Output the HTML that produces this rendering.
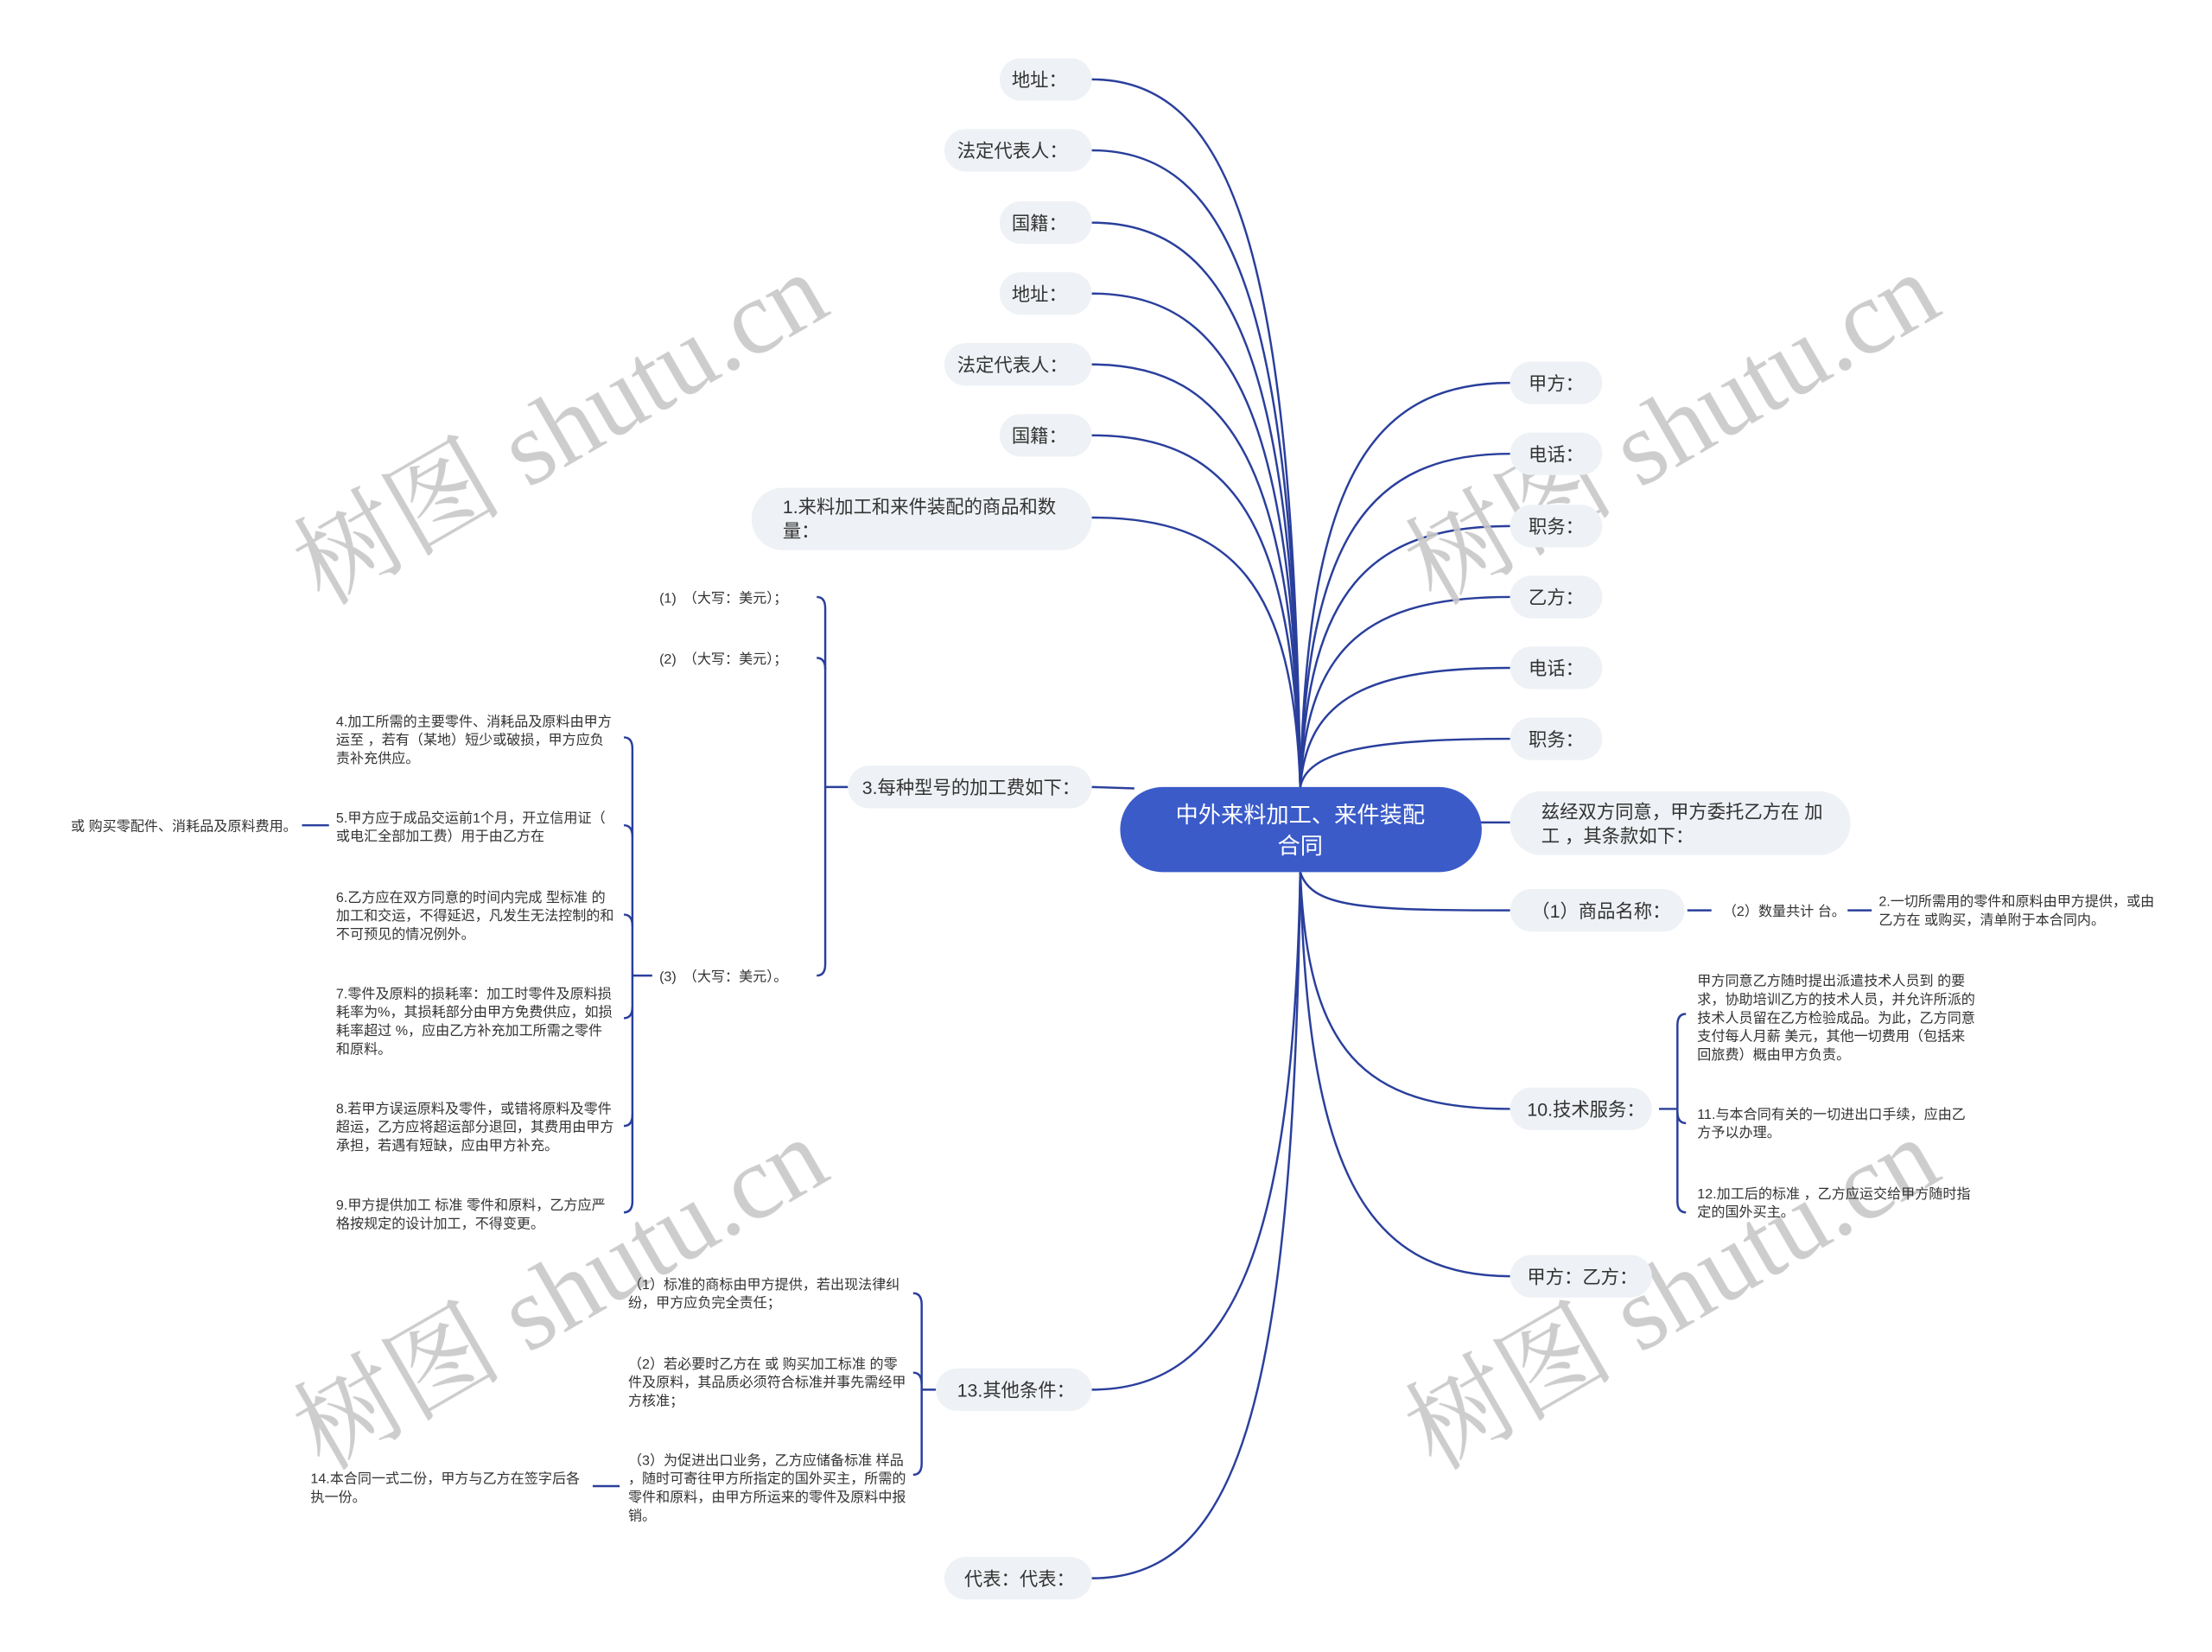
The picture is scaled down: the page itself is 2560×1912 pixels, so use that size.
<!DOCTYPE html>
<html><head><meta charset="utf-8"><style>
html,body{margin:0;padding:0;background:#fff;}
svg{display:block;}
text{font-family:"Liberation Sans","Noto Sans CJK SC",sans-serif;fill:#333;}
.p{fill:#eef1f5;}
.l{fill:none;stroke:#2a3f9c;stroke-width:1.5;}
.t{font-size:13px;}
.s{font-size:9.8px;}
.wm{font-size:74px;fill:#c8c8c8;font-family:"Liberation Serif","Noto Serif CJK SC",serif;}
</style></head><body>
<svg width="2560" height="1912" viewBox="0 0 1560 1165" preserveAspectRatio="none" xmlns="http://www.w3.org/2000/svg">
<g class="l">
<path d="M917,555 C912,181 870,56 770,56"/>
<path d="M917,555 C912,218 870,106 770,106"/>
<path d="M917,555 C912,256 870,157 770,157"/>
<path d="M917,555 C912,294 870,207 770,207"/>
<path d="M917,555 C912,332 870,257 770,257"/>
<path d="M917,555 C912,369 870,307 770,307"/>
<path d="M917,555 C912,412 870,365 770,365"/>
<path d="M917,555 C922,341 965,270 1065,270"/>
<path d="M917,555 C922,379 965,320 1065,320"/>
<path d="M917,555 C922,417 965,371 1065,371"/>
<path d="M917,555 C922,455 965,421 1065,421"/>
<path d="M917,555 C922,492 965,471 1065,471"/>
<path d="M917,555 C922,530 965,521 1065,521"/>
<path d="M800,556 L770,555"/>
<path d="M1040,580 L1065,580"/>
<path d="M917,615 C925,640 960,642 1065,642"/>
<path d="M917,615 C922,740 960,782 1065,782"/>
<path d="M917,615 C922,820 960,900 1065,900"/>
<path d="M917,615 C912,880 870,980 770,980"/>
<path d="M917,615 C912,1000 870,1113 770,1113"/>
<path d="M576,421 Q582,421 582,429 L582,680 Q582,688 576,688"/>
<path d="M576,464 Q582,464 582,472"/>
<path d="M582,555 L598,555"/>
<path d="M440,520 Q446,520 446,528 L446,847 Q446,855 440,855"/>
<path d="M440,582 Q446,582 446,590"/>
<path d="M440,645 Q446,645 446,653"/>
<path d="M440,718 Q446,718 446,710"/>
<path d="M440,794 Q446,794 446,786"/>
<path d="M446,688 L460,688"/>
<path d="M213,582 L232,582"/>
<path d="M644,912 Q650,912 650,920 L650,1032 Q650,1040 644,1040"/>
<path d="M644,968 Q650,968 650,976"/>
<path d="M650,980 L660,980"/>
<path d="M418,1048 L437,1048"/>
<path d="M1189,715 Q1183,715 1183,723 L1183,847 Q1183,855 1189,855"/>
<path d="M1189,792 Q1183,792 1183,784"/>
<path d="M1170,782 L1183,782"/>
<path d="M1190,642 L1207,642"/>
<path d="M1303,642 L1320,642"/>
</g>
<g opacity="0.9">
<text class="wm" transform="translate(228,428) rotate(-30)">树图 shutu.cn</text>
<text class="wm" transform="translate(1012,428) rotate(-30)">树图 shutu.cn</text>
<text class="wm" transform="translate(228,1038) rotate(-30)">树图 shutu.cn</text>
<text class="wm" transform="translate(1012,1038) rotate(-30)">树图 shutu.cn</text>
</g>
<rect class="p" x="705" y="41" width="65" height="30" rx="15"/><text class="t" x="733" y="61" text-anchor="middle">地址：</text>
<rect class="p" x="666" y="91" width="104" height="30" rx="15"/><text class="t" x="714" y="111" text-anchor="middle">法定代表人：</text>
<rect class="p" x="705" y="142" width="65" height="30" rx="15"/><text class="t" x="733" y="162" text-anchor="middle">国籍：</text>
<rect class="p" x="705" y="192" width="65" height="30" rx="15"/><text class="t" x="733" y="212" text-anchor="middle">地址：</text>
<rect class="p" x="666" y="242" width="104" height="30" rx="15"/><text class="t" x="714" y="262" text-anchor="middle">法定代表人：</text>
<rect class="p" x="705" y="292" width="65" height="30" rx="15"/><text class="t" x="733" y="312" text-anchor="middle">国籍：</text>
<rect class="p" x="530" y="344" width="240" height="44" rx="22"/>
<text class="t" x="552" y="362">1.来料加工和来件装配的商品和数</text>
<text class="t" x="552" y="379">量：</text>
<rect class="p" x="598" y="540" width="172" height="30" rx="15"/><text class="t" x="608" y="560">3.每种型号的加工费如下：</text>
<rect class="p" x="660" y="965" width="110" height="30" rx="15"/><text class="t" x="675" y="985">13.其他条件：</text>
<rect class="p" x="666" y="1098" width="104" height="30" rx="15"/><text class="t" x="680" y="1118">代表：代表：</text>
<rect class="p" x="1065" y="255" width="65" height="30" rx="15"/><text class="t" x="1078" y="275">甲方：</text>
<rect class="p" x="1065" y="305" width="65" height="30" rx="15"/><text class="t" x="1078" y="325">电话：</text>
<rect class="p" x="1065" y="356" width="65" height="30" rx="15"/><text class="t" x="1078" y="376">职务：</text>
<rect class="p" x="1065" y="406" width="65" height="30" rx="15"/><text class="t" x="1078" y="426">乙方：</text>
<rect class="p" x="1065" y="456" width="65" height="30" rx="15"/><text class="t" x="1078" y="476">电话：</text>
<rect class="p" x="1065" y="506" width="65" height="30" rx="15"/><text class="t" x="1078" y="526">职务：</text>
<rect class="p" x="1065" y="558" width="240" height="45" rx="22"/>
<text class="t" x="1087" y="577">兹经双方同意，甲方委托乙方在 加</text>
<text class="t" x="1087" y="594">工 ，其条款如下：</text>
<rect class="p" x="1065" y="627" width="123" height="30" rx="15"/><text class="t" x="1080" y="647">（1）商品名称：</text>
<rect class="p" x="1065" y="767" width="100" height="30" rx="15"/><text class="t" x="1077" y="787">10.技术服务：</text>
<rect class="p" x="1065" y="885" width="100" height="30" rx="15"/><text class="t" x="1077" y="905">甲方：乙方：</text>
<rect x="790" y="555" width="255" height="60" rx="30" fill="#3b5bc9"/>
<text x="917" y="580" text-anchor="middle" style="font-size:16px;fill:#fff">中外来料加工、来件装配</text>
<text x="917" y="602" text-anchor="middle" style="font-size:16px;fill:#fff">合同</text>
<g class="s">
<text x="465" y="425">(1)　（大写：美元）；</text>
<text x="465" y="468">(2)　（大写：美元）；</text>
<text x="465" y="692">(3)　（大写：美元）。</text>
<text x="237" y="512">4.加工所需的主要零件、消耗品及原料由甲方</text>
<text x="237" y="525">运至 ，若有（某地）短少或破损，甲方应负</text>
<text x="237" y="538">责补充供应。</text>
<text x="237" y="580">5.甲方应于成品交运前1个月，开立信用证（</text>
<text x="237" y="593">或电汇全部加工费）用于由乙方在</text>
<text x="50" y="586">或 购买零配件、消耗品及原料费用。</text>
<text x="237" y="636">6.乙方应在双方同意的时间内完成 型标准 的</text>
<text x="237" y="649">加工和交运，不得延迟，凡发生无法控制的和</text>
<text x="237" y="662">不可预见的情况例外。</text>
<text x="237" y="704">7.零件及原料的损耗率：加工时零件及原料损</text>
<text x="237" y="717">耗率为%，其损耗部分由甲方免费供应，如损</text>
<text x="237" y="730">耗率超过 %，应由乙方补充加工所需之零件</text>
<text x="237" y="743">和原料。</text>
<text x="237" y="785">8.若甲方误运原料及零件，或错将原料及零件</text>
<text x="237" y="798">超运，乙方应将超运部分退回，其费用由甲方</text>
<text x="237" y="811">承担，若遇有短缺，应由甲方补充。</text>
<text x="237" y="853">9.甲方提供加工 标准 零件和原料，乙方应严</text>
<text x="237" y="866">格按规定的设计加工，不得变更。</text>
<text x="443" y="909">（1）标准的商标由甲方提供，若出现法律纠</text>
<text x="443" y="922">纷，甲方应负完全责任；</text>
<text x="443" y="965">（2）若必要时乙方在 或 购买加工标准 的零</text>
<text x="443" y="978">件及原料，其品质必须符合标准并事先需经甲</text>
<text x="443" y="991">方核准；</text>
<text x="443" y="1033">（3）为促进出口业务，乙方应储备标准 样品</text>
<text x="443" y="1046">，随时可寄往甲方所指定的国外买主，所需的</text>
<text x="443" y="1059">零件和原料，由甲方所运来的零件及原料中报</text>
<text x="443" y="1072">销。</text>
<text x="219" y="1046">14.本合同一式二份，甲方与乙方在签字后各</text>
<text x="219" y="1059">执一份。</text>
<text x="1215" y="646">（2）数量共计 台。</text>
<text x="1325" y="639">2.一切所需用的零件和原料由甲方提供，或由</text>
<text x="1325" y="652">乙方在 或购买，清单附于本合同内。</text>
<text x="1197" y="695"> 甲方同意乙方随时提出派遣技术人员到 的要</text>
<text x="1197" y="708">求，协助培训乙方的技术人员，并允许所派的</text>
<text x="1197" y="721">技术人员留在乙方检验成品。为此，乙方同意</text>
<text x="1197" y="734">支付每人月薪 美元，其他一切费用（包括来</text>
<text x="1197" y="747">回旅费）概由甲方负责。</text>
<text x="1197" y="789">11.与本合同有关的一切进出口手续，应由乙</text>
<text x="1197" y="802">方予以办理。</text>
<text x="1197" y="845">12.加工后的标准 ，乙方应运交给甲方随时指</text>
<text x="1197" y="858">定的国外买主。</text>
</g>
</svg>
</body></html>
